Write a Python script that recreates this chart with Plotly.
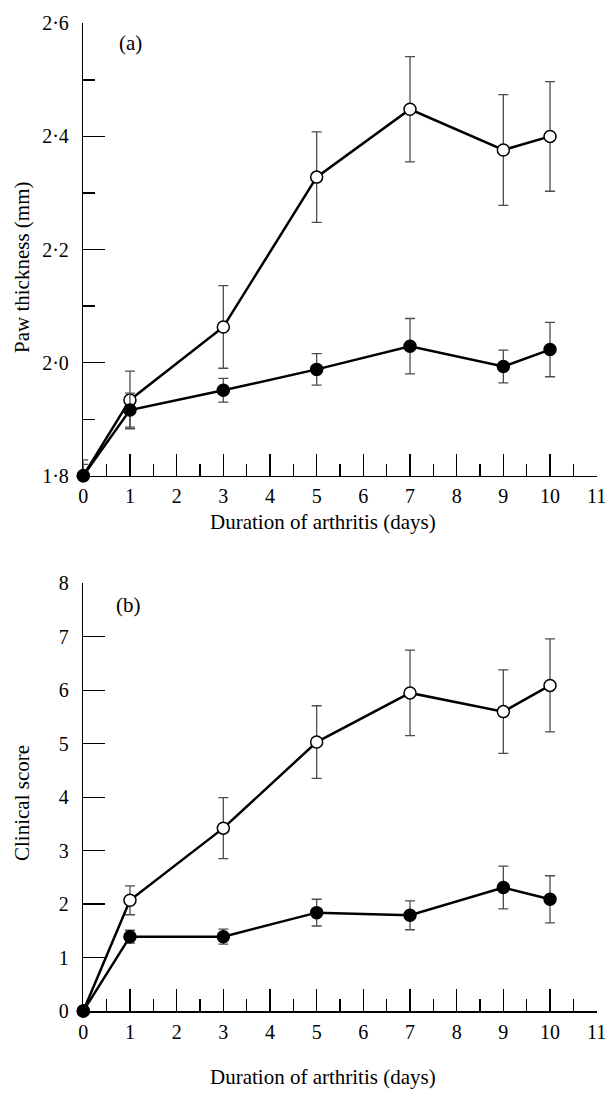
import plotly.graph_objects as go

W, H = 609, 1093

days = [0, 1, 3, 5, 7, 9, 10]

# Panel (a): paw thickness (mm)
paw_open = [1.80, 1.934, 2.063, 2.328, 2.448, 2.376, 2.400]
paw_open_err = [0.028, 0.051, 0.073, 0.080, 0.093, 0.098, 0.097]
paw_open_err_minus = [0.0, 0.051, 0.073, 0.080, 0.093, 0.098, 0.097]
paw_filled = [1.80, 1.916, 1.951, 1.988, 2.029, 1.993, 2.023]
paw_filled_err = [0.020, 0.030, 0.021, 0.028, 0.049, 0.029, 0.048]
paw_filled_err_minus = [0.0, 0.030, 0.021, 0.028, 0.049, 0.029, 0.048]

# Panel (b): clinical score
score_open = [0.0, 2.07, 3.42, 5.03, 5.95, 5.60, 6.09]
score_open_err = [0.0, 0.27, 0.57, 0.68, 0.80, 0.78, 0.87]
score_filled = [0.0, 1.39, 1.39, 1.84, 1.79, 2.31, 2.09]
score_filled_err = [0.0, 0.12, 0.14, 0.25, 0.27, 0.40, 0.44]

x_ticks = list(range(0, 12))
x_ticktext = [str(v) for v in x_ticks]
x_minor = [v + 0.5 for v in range(0, 11)]
paw_ticks = [1.8, 2.0, 2.2, 2.4, 2.6]
paw_ticktext = ["1·8", "2·0", "2·2", "2·4", "2·6"]
paw_minor = [1.9, 2.1, 2.3, 2.5]
score_ticks = list(range(0, 9))
score_ticktext = [str(v) for v in score_ticks]

FONT = "Liberation Serif, Times New Roman, serif"
TICKFS = 20
TITLEFS = 21
ERRC = "#4d4d4d"


def px(x):
    return x / W


def py(y):
    return 1 - y / H


fig = go.Figure()


def add_series(xa, ya, y, err, errm, filled):
    fig.add_trace(go.Scatter(
        x=days, y=y, xaxis=xa, yaxis=ya, mode="lines+markers",
        line=dict(color="black", width=2.5),
        marker=dict(symbol="circle", size=12,
                    color="black" if filled else "white",
                    line=dict(color="black", width=1.5)),
        error_y=dict(type="data", array=err, arrayminus=errm, visible=True,
                     color=ERRC, thickness=1.3, width=5),
        cliponaxis=False, showlegend=False, hoverinfo="skip"))


add_series("x", "y", paw_open, paw_open_err, paw_open_err_minus, False)
add_series("x", "y", paw_filled, paw_filled_err, paw_filled_err_minus, True)
add_series("x2", "y2", score_open, score_open_err, score_open_err, False)
add_series("x2", "y2", score_filled, score_filled_err, score_filled_err, True)

xdom = [px(83.3), px(596.7)]
ydom_a = [py(475.7), py(23.3)]
ydom_b = [py(1011), py(583.3)]

xcommon = dict(range=[0, 11], domain=xdom, showgrid=False, zeroline=False,
               showline=True, linecolor="black", linewidth=1.5,
               tickmode="array", tickvals=x_ticks, ticktext=x_ticktext,
               ticks="inside", ticklen=22, tickwidth=1.3, tickcolor="black",
               minor=dict(tickmode="array", tickvals=x_minor, ticks="inside",
                          ticklen=12, tickwidth=1.3, tickcolor="black", showgrid=False),
               tickfont=dict(family=FONT, size=TICKFS, color="black"),
               ticklabelstandoff=2, automargin=False, fixedrange=True)

ycommon = dict(showgrid=False, zeroline=False, showline=True, linecolor="black",
               linewidth=1.5, ticks="inside", ticklen=22, tickwidth=1.3,
               tickcolor="black", tickmode="array",
               tickfont=dict(family=FONT, size=TICKFS, color="black"),
               ticklabelstandoff=9, automargin=False, fixedrange=True)

fig.update_layout(
    width=W, height=H,
    margin=dict(l=0, r=0, t=0, b=0),
    paper_bgcolor="white", plot_bgcolor="white",
    font=dict(family=FONT, color="black"),
    xaxis=dict(**xcommon, anchor="y"),
    xaxis2=dict(**xcommon, anchor="y2"),
    yaxis=dict(**ycommon, range=[1.8, 2.6], domain=ydom_a, anchor="x",
               tickvals=paw_ticks, ticktext=paw_ticktext,
               minor=dict(tickmode="array", tickvals=paw_minor, ticks="inside",
                          ticklen=12, tickwidth=1.3, tickcolor="black", showgrid=False)),
    yaxis2=dict(**ycommon, range=[0, 8], domain=ydom_b, anchor="x2",
                tickvals=score_ticks, ticktext=score_ticktext),
)

ann = [
    dict(text="(a)", x=px(130), y=py(43)),
    dict(text="(b)", x=px(128), y=py(605)),
    dict(text="Paw thickness (mm)", x=px(22), y=py(268), textangle=-90),
    dict(text="Clinical score", x=px(22), y=py(803), textangle=-90),
    dict(text="Duration of arthritis (days)", x=px(323), y=py(522)),
    dict(text="Duration of arthritis (days)", x=px(323), y=py(1077)),
]
for a in ann:
    fig.add_annotation(xref="paper", yref="paper", xanchor="center", yanchor="middle",
                       showarrow=False, font=dict(family=FONT, size=TITLEFS, color="black"),
                       **a)

fig.write_html("out.html",
               config={"displayModeBar": False, "staticPlot": True},
               post_script="document.body.style.margin='0px';"
                           "document.body.style.overflow='hidden';")
